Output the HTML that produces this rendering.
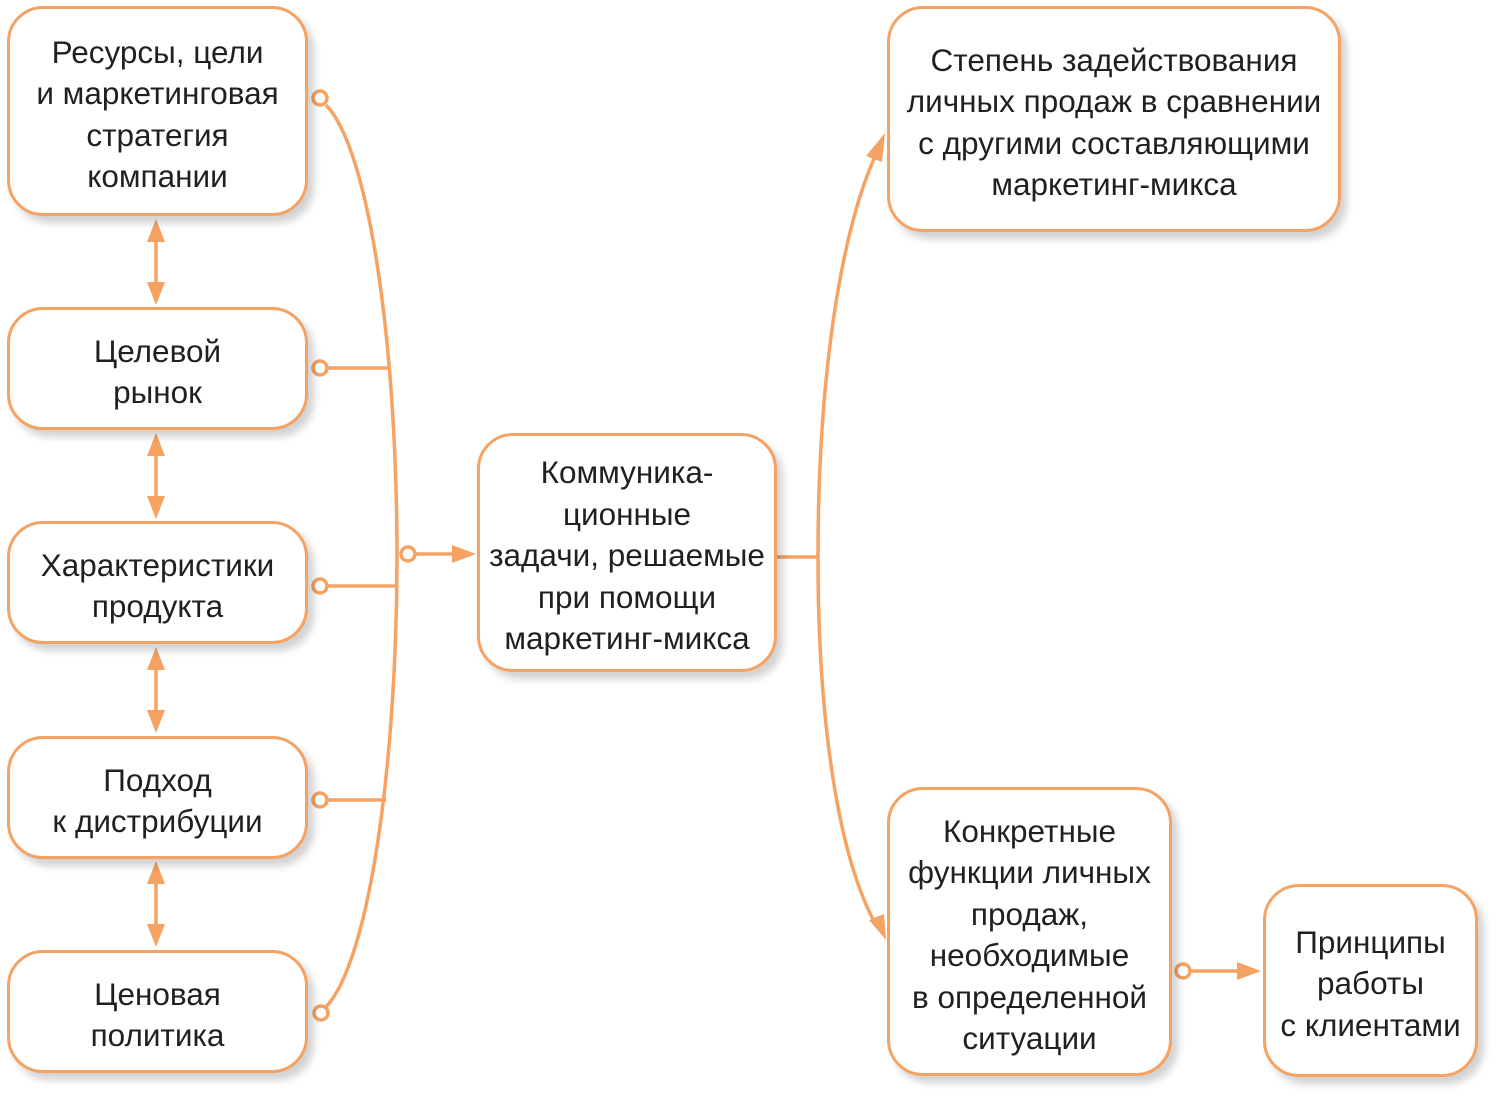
<!DOCTYPE html>
<html><head><meta charset="utf-8"><style>
html,body{margin:0;padding:0;background:#fff;}
body{width:1500px;height:1099px;position:relative;overflow:hidden;font-family:"Liberation Sans","DejaVu Sans",sans-serif;}
.b{position:absolute;box-sizing:border-box;border:3px solid #f5a263;border-radius:36px;background:#fff;box-shadow:6px 7px 8px rgba(0,0,0,0.18);display:flex;align-items:center;justify-content:center;text-align:center;font-size:31.5px;line-height:41.5px;color:#231f20;padding-top:7px;white-space:nowrap;}
svg{position:absolute;left:0;top:0;}
</style></head><body>
<svg width="1500" height="1099">
<g fill="none" stroke="#f5a263" stroke-width="3.5">
<path d="M326 105 C 370 150, 397 350, 397 556 C 397 760, 370 960, 326 1007"/>
<line x1="327" y1="368" x2="390" y2="368"/>
<line x1="327" y1="586" x2="397" y2="586"/>
<line x1="327" y1="800" x2="386" y2="800"/>
<line x1="415" y1="554" x2="455" y2="554"/>
<line x1="777" y1="557" x2="818" y2="557"/>
<path d="M878 150 C 840 230, 818 380, 818 557 C 818 730, 840 860, 876 925"/>
<line x1="1190" y1="971" x2="1240" y2="971"/>
<line x1="156" y1="238" x2="156" y2="286"/>
<line x1="156" y1="452" x2="156" y2="500"/>
<line x1="156" y1="666" x2="156" y2="714"/>
<line x1="156" y1="880" x2="156" y2="928"/>
</g>
<g fill="#fff" stroke="#f5a263" stroke-width="3.5">
<circle cx="320" cy="98" r="7"/><circle cx="320" cy="368" r="7"/><circle cx="320" cy="586" r="7"/><circle cx="320" cy="800" r="7"/><circle cx="321" cy="1013" r="7"/><circle cx="408" cy="554" r="7"/><circle cx="1183" cy="971" r="7"/>
</g>
<g fill="#f5a263">
<polygon points="476,554 452,545 452,563"/>
<polygon points="1261,971 1237,962 1237,980"/>
<polygon points="885,133 866,156 882,162"/>
<polygon points="886,940 869,920 884,914"/>
<polygon points="156,219 147,242 165,242"/><polygon points="156,305 147,282 165,282"/>
<polygon points="156,433 147,456 165,456"/><polygon points="156,519 147,496 165,496"/>
<polygon points="156,647 147,670 165,670"/><polygon points="156,733 147,710 165,710"/>
<polygon points="156,861 147,884 165,884"/><polygon points="156,947 147,924 165,924"/>
</g>
</svg>
<div class="b" style="left:7px;top:6px;width:301px;height:210px;">Ресурсы, цели<br>и маркетинговая<br>стратегия<br>компании</div>
<div class="b" style="left:7px;top:307px;width:301px;height:123px;">Целевой<br>рынок</div>
<div class="b" style="left:7px;top:521px;width:301px;height:123px;">Характеристики<br>продукта</div>
<div class="b" style="left:7px;top:736px;width:301px;height:123px;">Подход<br>к дистрибуции</div>
<div class="b" style="left:7px;top:950px;width:301px;height:123px;">Ценовая<br>политика</div>
<div class="b" style="left:477px;top:433px;width:300px;height:239px;">Коммуника-<br>ционные<br>задачи, решаемые<br>при помощи<br>маркетинг-микса</div>
<div class="b" style="left:887px;top:6px;width:454px;height:226px;">Степень задействования<br>личных продаж в сравнении<br>с другими составляющими<br>маркетинг-микса</div>
<div class="b" style="left:887px;top:787px;width:285px;height:289px;">Конкретные<br>функции личных<br>продаж,<br>необходимые<br>в определенной<br>ситуации</div>
<div class="b" style="left:1263px;top:884px;width:215px;height:193px;">Принципы<br>работы<br>с клиентами</div>
</body></html>
